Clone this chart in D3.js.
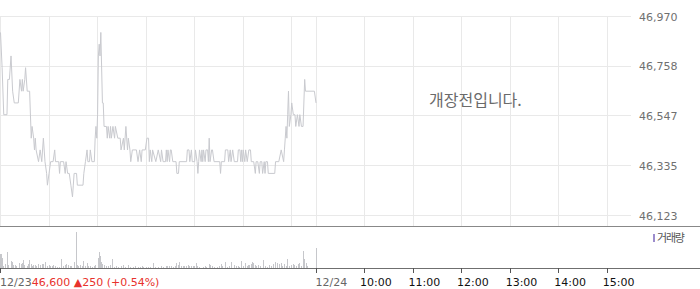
<!DOCTYPE html>
<html>
<head>
<meta charset="utf-8">
<script src="https://cdn.jsdelivr.net/npm/d3@7"></script>
<style>
  body { margin: 0; background: #fff; }
  svg { display: block; }
</style>
</head>
<body>
<div id="chart"></div>
<script>
const WIDTH = 700;
const HEIGHT = 289;

// minutes after 09:00 on 12/23 (the 12/24 session starts at minute 390)
const priceMinutes = [
  0, 2, 4, 8, 9, 11, 13, 15, 17, 22, 24, 26, 27, 28, 30, 31, 33, 36, 38, 39,
  41, 42, 43, 44, 47, 49, 51, 53, 55, 57, 58, 60, 62, 65, 67, 68, 72, 73, 74, 78,
  80, 81, 83, 85, 87, 89, 90, 91, 94, 95, 97, 102, 103, 105, 107, 108, 110, 111, 113, 116,
  117, 118, 119, 120, 121, 122, 123, 124, 126, 127, 128, 131, 132, 133, 135, 136, 137, 139, 141, 142,
  145, 148, 149, 152, 153, 155, 157, 158, 160, 161, 163, 168, 170, 172, 174, 175, 179, 181, 183, 184,
  185, 187, 188, 192, 195, 198, 199, 201, 204, 205, 206, 207, 209, 210, 211, 213, 217, 218, 220, 221,
  230, 231, 233, 234, 236, 237, 240, 241, 243, 244, 245, 246, 248, 249, 250, 251, 253, 254, 256, 257,
  258, 259, 261, 262, 264, 271, 272, 273, 277, 278, 281, 282, 284, 285, 287, 289, 293, 294, 296, 297,
  298, 299, 300, 302, 303, 305, 307, 309, 310, 313, 315, 316, 318, 320, 321, 323, 324, 326, 327, 328,
  330, 331, 339, 340, 344, 347, 350, 351, 352, 353, 354, 355, 356, 357, 359, 360, 362, 364, 365, 367,
  369, 370, 372, 374, 376, 377, 388, 390
];
const prices = [
  46900, 46750, 46550, 46550, 46700, 46700, 46800, 46650, 46600, 46600, 46700, 46650, 46700, 46650, 46700, 46750, 46650, 46650, 46450, 46500,
  46450, 46400, 46450, 46400, 46350, 46400, 46350, 46450, 46350, 46300, 46250, 46300, 46350, 46350, 46400, 46350, 46350, 46300, 46350, 46350,
  46300, 46350, 46300, 46300, 46250, 46200, 46250, 46300, 46300, 46250, 46250, 46250, 46300, 46350, 46400, 46350, 46350, 46400, 46350, 46350,
  46450, 46500, 46450, 46550, 46800, 46850, 46800, 46900, 46600, 46600, 46500, 46500, 46450, 46500, 46450, 46500, 46450, 46500, 46450, 46500,
  46450, 46450, 46400, 46450, 46400, 46500, 46400, 46450, 46400, 46350, 46400, 46400, 46350, 46400, 46350, 46400, 46400, 46450, 46450, 46350,
  46400, 46350, 46400, 46350, 46400, 46350, 46400, 46350, 46350, 46400, 46350, 46400, 46350, 46400, 46400, 46350, 46350, 46300, 46300, 46350,
  46350, 46400, 46400, 46350, 46400, 46350, 46350, 46400, 46350, 46300, 46350, 46400, 46350, 46400, 46350, 46400, 46350, 46400, 46400, 46350,
  46450, 46350, 46400, 46400, 46350, 46350, 46300, 46350, 46350, 46400, 46400, 46350, 46400, 46350, 46400, 46350, 46350, 46400, 46400, 46350,
  46400, 46350, 46400, 46350, 46400, 46350, 46400, 46400, 46350, 46350, 46300, 46350, 46350, 46300, 46350, 46350, 46300, 46350, 46300, 46350,
  46350, 46300, 46300, 46350, 46350, 46400, 46350, 46400, 46450, 46500, 46450, 46550, 46650, 46500, 46550, 46600, 46550, 46550, 46500, 46550,
  46500, 46550, 46500, 46500, 46700, 46650, 46650, 46600
];

const volumeMinutes = [
  0, 1, 2, 4, 6, 9, 10, 14, 15, 16, 18, 20, 23, 24, 26, 27, 29, 30, 33, 35,
  36, 38, 39, 41, 43, 45, 47, 49, 52, 53, 56, 58, 60, 62, 64, 66, 68, 70, 73, 76,
  78, 80, 82, 84, 86, 88, 91, 92, 94, 95, 97, 99, 101, 103, 105, 107, 109, 111, 114, 116,
  118, 121, 122, 123, 125, 126, 128, 131, 133, 136, 139, 141, 143, 146, 149, 152, 154, 158, 161, 165,
  167, 171, 173, 175, 177, 181, 183, 185, 189, 192, 195, 199, 201, 205, 207, 209, 211, 214, 216, 218,
  220, 221, 224, 226, 228, 230, 232, 234, 236, 238, 240, 242, 244, 246, 251, 253, 255, 258, 260, 262,
  265, 268, 271, 273, 275, 278, 281, 283, 286, 289, 292, 294, 296, 298, 300, 303, 305, 307, 308, 310,
  311, 313, 315, 317, 319, 322, 325, 327, 330, 333, 335, 337, 340, 342, 343, 345, 347, 349, 351, 353,
  355, 357, 360, 362, 364, 366, 368, 369, 372, 375, 376, 378, 379, 390
];
const volumes = [
  140, 140, 100, 20, 40, 160, 30, 70, 60, 30, 30, 20, 40, 50, 40, 50, 80, 30, 20, 40,
  80, 40, 20, 30, 30, 20, 40, 30, 40, 40, 60, 20, 30, 20, 20, 30, 20, 10, 10, 90,
  20, 30, 40, 30, 20, 20, 40, 60, 360, 30, 20, 30, 20, 70, 20, 50, 20, 20, 10, 20,
  30, 100, 160, 120, 60, 40, 30, 20, 20, 30, 90, 10, 20, 10, 20, 30, 10, 30, 10, 10,
  20, 10, 10, 20, 10, 10, 10, 10, 50, 10, 10, 20, 10, 20, 20, 20, 20, 10, 20, 50,
  30, 60, 20, 20, 20, 20, 30, 20, 20, 20, 20, 50, 20, 10, 10, 20, 10, 40, 30, 20,
  10, 10, 20, 40, 20, 60, 10, 20, 60, 30, 20, 20, 10, 70, 20, 50, 20, 30, 30, 40,
  60, 50, 30, 20, 30, 20, 80, 20, 10, 30, 20, 40, 60, 30, 50, 40, 50, 20, 40, 20,
  90, 20, 30, 40, 30, 20, 40, 50, 20, 170, 90, 50, 20, 200
];

const priceTicks = [46970, 46758, 46547, 46335, 46123];
const dayLabels = ['12/23', '12/24'];
const dayStarts = [0, 390];
const hourLabels = ['10:00', '11:00', '12:00', '13:00', '14:00', '15:00'];
const hourMinutes = [450, 510, 570, 630, 690, 750];
const lastPrice = '46,600';
const change = '▲250';
const changePct = '(+0.54%)';
const notice = '개장전입니다.';
const volumeLegend = '거래량';

const FONT = '"DejaVu Sans", sans-serif';
const KFONT = '"Noto Sans CJK KR", sans-serif';

const svg = d3.select('#chart').append('svg')
  .attr('width', WIDTH)
  .attr('height', HEIGHT);

svg.append('rect').attr('width', WIDTH).attr('height', HEIGHT).attr('fill', '#fff');

const x = d3.scaleLinear().domain([0, 780]).range([0, 631]);
const y = d3.scaleLinear().domain([46123, 46970]).range([215, 16]);
const yVol = d3.scaleLinear().domain([0, 420]).range([268, 226]);

const crisp = v => Math.round(v) + 0.5;

// grid
const grid = svg.append('g').attr('id', 'grid')
  .attr('stroke', '#e9e9e9').attr('stroke-width', 1);

grid.selectAll('line.h').data(priceTicks).enter().append('line')
  .attr('class', 'h')
  .attr('x1', 0).attr('x2', x(780))
  .attr('y1', d => crisp(y(d))).attr('y2', d => crisp(y(d)));

const vGrid = [0, 60, 120, 180, 240, 300, 360, 390].concat(hourMinutes);
grid.selectAll('line.v').data(vGrid).enter().append('line')
  .attr('class', 'v')
  .attr('x1', d => crisp(x(d))).attr('x2', d => crisp(x(d)))
  .attr('y1', crisp(y(46970))).attr('y2', 226);

// price labels
svg.append('g').selectAll('text').data(priceTicks).enter().append('text')
  .attr('x', 639)
  .attr('y', d => y(d) + 4.5)
  .attr('font-family', FONT)
  .attr('font-size', 11)
  .attr('fill', '#707070')
  .text(d => d3.format(',')(d));

// price line
const priceData = priceMinutes.map((m, i) => ({ m, p: prices[i] }));
svg.append('path')
  .datum(priceData)
  .attr('fill', 'none')
  .attr('stroke', '#c9cacf')
  .attr('stroke-width', 1)
  .attr('d', d3.line().x(d => x(d.m) + 0.5).y(d => y(d.p)));

svg.append('text')
  .attr('x', 429).attr('y', 106)
  .attr('font-family', KFONT)
  .attr('font-size', 16)
  .attr('fill', '#6a6a6a')
  .text(notice);

// volume bars
const volData = volumeMinutes.map((m, i) => ({ m, v: volumes[i] }));
svg.append('g').selectAll('rect').data(volData).enter().append('rect')
  .attr('x', d => Math.round(x(d.m)))
  .attr('width', 1)
  .attr('y', d => yVol(d.v))
  .attr('height', d => 268 - yVol(d.v))
  .attr('fill', '#c6c7cb');

// legend
svg.append('rect')
  .attr('x', 653).attr('y', 234).attr('width', 2).attr('height', 8)
  .attr('fill', '#9c8ccc');
svg.append('text')
  .attr('x', 657).attr('y', 242)
  .attr('font-family', KFONT)
  .attr('font-size', 11)
  .attr('letter-spacing', -1.2)
  .attr('fill', '#555')
  .text(volumeLegend);

// panel separators
svg.append('line')
  .attr('x1', 0).attr('x2', WIDTH).attr('y1', 226.5).attr('y2', 226.5)
  .attr('stroke', '#888');
svg.append('line')
  .attr('x1', 0).attr('x2', WIDTH).attr('y1', 268.5).attr('y2', 268.5)
  .attr('stroke', '#6f6f6f');

// time axis ticks
svg.append('g').selectAll('line').data(dayStarts.concat(hourMinutes)).enter().append('line')
  .attr('x1', d => crisp(x(d))).attr('x2', d => crisp(x(d)))
  .attr('y1', 268).attr('y2', 273)
  .attr('stroke', '#555');

// day labels + last price
const first = svg.append('text')
  .attr('x', x(dayStarts[0])).attr('y', 286)
  .attr('font-family', FONT)
  .attr('font-size', 11);
first.append('tspan').attr('fill', '#666').text(dayLabels[0]);
first.append('tspan').attr('fill', '#e8322c').text(`${lastPrice} ${change} ${changePct}`);

svg.append('text')
  .attr('x', x(dayStarts[1])).attr('y', 286)
  .attr('font-family', FONT)
  .attr('font-size', 11)
  .attr('fill', '#666')
  .text(dayLabels[1]);

svg.append('g').selectAll('text').data(hourLabels).enter().append('text')
  .attr('x', (d, i) => x(hourMinutes[i]) - 4)
  .attr('y', 286)
  .attr('font-family', FONT)
  .attr('font-size', 11)
  .attr('fill', '#111')
  .text(d => d);
</script>
</body>
</html>
